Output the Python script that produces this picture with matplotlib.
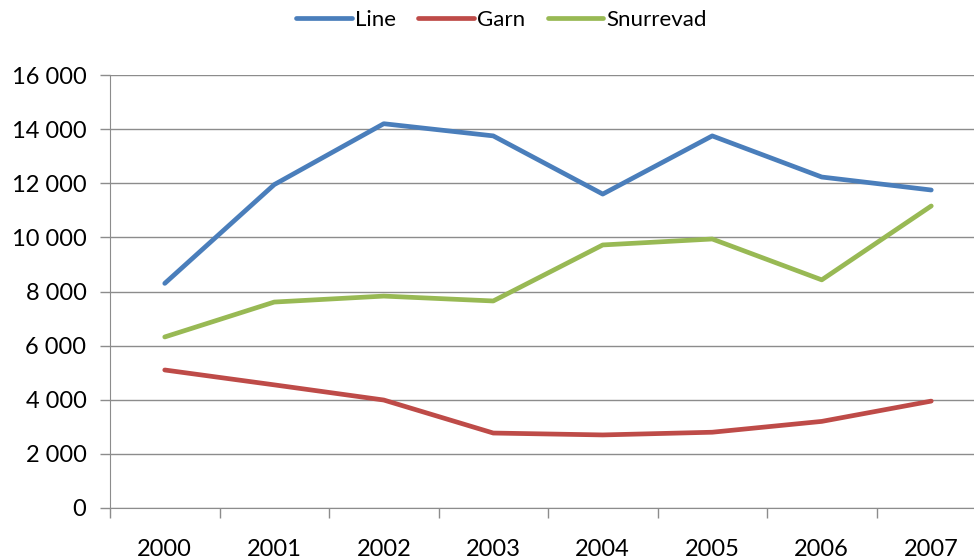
import numpy as np
import matplotlib.pyplot as plt
from matplotlib.ticker import FuncFormatter

years = ['2000', '2001', '2002', '2003', '2004', '2005', '2006', '2007']
line = [8300, 11950, 14200, 13750, 11600, 13750, 12230, 11750]
garn = [5100, 4550, 3990, 2770, 2700, 2800, 3200, 3950]
snurrevad = [6320, 7610, 7830, 7650, 9720, 9940, 8430, 11160]

plt.rcParams['font.family'] = ['Lato', 'DejaVu Sans']

fig = plt.figure(figsize=(9.74, 5.6), dpi=100)
# plot area runs past the right edge like the cropped original
ax = fig.add_axes([110 / 974, 52 / 560, 876 / 974, 433 / 560])

x = np.arange(len(years))
ax.plot(x, line, color='#4A7EBB', lw=3.4, label='Line', solid_capstyle='round')
ax.plot(x, garn, color='#BE4B48', lw=3.4, label='Garn', solid_capstyle='round')
ax.plot(x, snurrevad, color='#98B954', lw=3.4, label='Snurrevad', solid_capstyle='round')

ax.set_xlim(-0.5, len(years) - 0.5)
ax.set_ylim(0, 16000)
ax.set_yticks(range(0, 16001, 2000))
ax.yaxis.set_major_formatter(FuncFormatter(lambda v, p: f'{int(v):,}'.replace(',', ' ')))
ax.grid(axis='y', color='#8C8C8C', lw=1)
ax.set_axisbelow(True)

# ticks between categories, labels at centres
ax.set_xticks(np.arange(-0.5, len(years), 1))
ax.set_xticklabels([])
ax.set_xticks(x, minor=True)
ax.set_xticklabels(years, minor=True)
ax.tick_params(axis='x', which='major', length=7, color='#8C8C8C', width=1)
ax.tick_params(axis='x', which='minor', length=0, pad=22, labelsize=17)
ax.tick_params(axis='y', length=7, color='#8C8C8C', width=1, labelsize=17, pad=10)

for s in ['top', 'right']:
    ax.spines[s].set_visible(False)
for s in ['left', 'bottom']:
    ax.spines[s].set_color('#8C8C8C')

fig.legend(loc='upper center', bbox_to_anchor=(0.515, 1.018), ncol=3, frameon=False,
           fontsize=16, handlelength=2.5, handletextpad=0.15, columnspacing=1.0)

fig.savefig('out.png', dpi=100)
